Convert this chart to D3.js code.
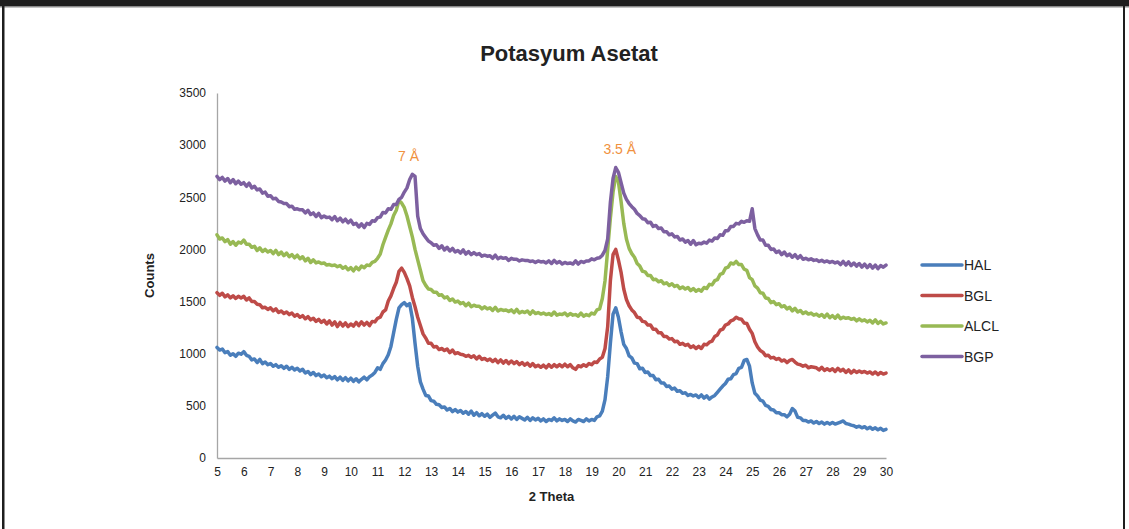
<!DOCTYPE html>
<html>
<head>
<meta charset="utf-8">
<script src="https://cdn.jsdelivr.net/npm/d3@7/dist/d3.min.js"></script>
<style>
  html, body { margin: 0; padding: 0; background: #fff; }
  svg { display: block; }
  text { font-family: "Liberation Sans", Arial, sans-serif; fill: #222; }
</style>
</head>
<body>
<svg id="chart" width="1129" height="529"></svg>
<script>
// 2-theta sampling grid, 5° to 30° in 0.1° steps
const theta = d3.range(251).map(i => +(5 + i / 10).toFixed(1));

const seriesNames = ["HAL", "BGL", "ALCL", "BGP"];
const seriesColors = ["#4A7EBB", "#BE4B48", "#98B954", "#7D60A0"];

const xTicks = d3.range(5, 31, 1);
const yTicks = [0, 500, 1000, 1500, 2000, 2500, 3000, 3500];

// d-spacing labels placed above the two main reflections
const peakLabels = ["7 Å", "3.5 Å"];
const peakLabelTheta = [12.16, 20.05];
const peakLabelCounts = [2850, 2915];

const HAL = [
  1060,1035,1045,1010,1020,985,1000,975,1005,995,
  1020,985,975,940,950,915,945,905,920,895,
  905,880,895,870,885,860,880,850,870,845,
  860,835,850,815,830,800,820,790,805,780,
  795,770,785,760,780,750,775,745,770,740,
  765,735,760,730,755,775,750,780,795,820,
  865,850,905,940,990,1070,1200,1330,1440,1470,
  1490,1460,1480,1340,1100,880,730,660,600,595,
  550,545,515,510,485,490,460,475,445,465,
  440,455,430,445,420,450,410,435,405,425,
  400,420,390,410,430,395,385,410,380,400,
  375,400,370,395,380,365,390,360,385,365,
  380,355,375,350,370,360,385,355,375,360,
  370,350,375,355,345,370,360,350,375,355,
  370,360,395,405,450,560,780,1100,1380,1440,
  1350,1210,1090,1050,980,960,910,905,855,860,
  820,825,790,790,750,755,720,720,685,690,
  660,670,640,645,620,625,600,610,595,605,
  580,605,575,595,565,585,600,630,660,690,
  715,755,760,800,810,860,870,935,945,880,
  720,620,595,555,545,505,495,465,460,435,
  435,415,415,395,420,475,450,390,385,360,
  360,345,355,335,350,330,345,325,340,325,
  340,325,335,345,355,330,325,315,310,295,
  305,290,300,280,295,275,290,270,285,265,
  275
];

const BGL = [
  1585,1560,1580,1545,1565,1535,1555,1530,1550,1535,
  1550,1515,1535,1500,1500,1475,1470,1440,1445,1425,
  1440,1410,1430,1395,1410,1385,1400,1375,1390,1360,
  1375,1350,1365,1335,1355,1325,1340,1310,1330,1300,
  1320,1285,1315,1275,1305,1260,1300,1265,1295,1260,
  1285,1265,1300,1270,1305,1275,1300,1270,1310,1305,
  1340,1350,1400,1420,1505,1555,1625,1685,1790,1820,
  1780,1720,1650,1540,1450,1350,1270,1190,1150,1100,
  1100,1065,1070,1040,1050,1030,1045,1010,1035,1000,
  1010,995,990,975,985,965,980,950,975,945,
  955,935,950,925,945,915,940,910,935,905,
  930,905,925,895,915,890,910,880,905,875,
  890,870,890,865,895,870,895,875,895,875,
  900,875,895,865,850,885,875,895,880,905,
  895,920,915,950,965,1050,1260,1700,1950,2000,
  1900,1780,1620,1520,1460,1420,1395,1350,1345,1310,
  1305,1275,1275,1235,1235,1200,1200,1165,1165,1140,
  1145,1115,1120,1090,1100,1080,1090,1060,1075,1050,
  1070,1050,1090,1085,1110,1120,1165,1180,1225,1235,
  1275,1285,1315,1325,1350,1335,1330,1295,1290,1235,
  1195,1115,1065,1030,1015,980,985,960,965,945,
  955,930,940,915,935,945,920,900,895,880,
  890,865,875,870,865,845,870,840,855,840,
  855,830,860,835,850,820,845,815,840,820,
  835,820,830,815,825,805,825,800,820,805,
  815
];

const ALCL = [
  2140,2100,2110,2075,2095,2050,2075,2040,2070,2060,
  2090,2050,2050,2020,2030,1990,2015,1980,2000,1975,
  1990,1960,1990,1950,1975,1940,1965,1930,1950,1920,
  1945,1910,1930,1890,1915,1875,1900,1870,1880,1865,
  1870,1850,1855,1845,1850,1835,1845,1820,1835,1805,
  1825,1795,1830,1805,1840,1825,1850,1845,1875,1885,
  1915,1955,2045,2115,2185,2245,2325,2375,2470,2445,
  2400,2320,2220,2120,2000,1900,1800,1700,1655,1620,
  1615,1590,1590,1560,1565,1535,1545,1510,1525,1495,
  1505,1480,1490,1460,1485,1450,1465,1455,1455,1430,
  1450,1430,1440,1415,1445,1410,1425,1415,1420,1405,
  1420,1395,1425,1390,1405,1395,1410,1380,1410,1385,
  1395,1380,1390,1375,1385,1370,1400,1370,1380,1375,
  1390,1365,1385,1370,1375,1360,1390,1360,1375,1365,
  1390,1380,1420,1430,1530,1700,2000,2300,2550,2700,
  2650,2460,2250,2100,2010,1960,1925,1865,1840,1790,
  1785,1750,1750,1710,1715,1690,1700,1670,1680,1655,
  1670,1645,1655,1625,1640,1620,1635,1605,1625,1600,
  1615,1600,1635,1625,1665,1660,1700,1710,1760,1770,
  1820,1830,1870,1860,1885,1855,1855,1810,1800,1730,
  1710,1650,1630,1585,1580,1535,1530,1490,1500,1470,
  1480,1450,1460,1430,1445,1410,1435,1400,1415,1385,
  1400,1380,1390,1370,1380,1360,1375,1350,1380,1345,
  1365,1340,1370,1335,1350,1340,1345,1330,1340,1315,
  1335,1315,1325,1305,1320,1295,1325,1290,1310,1285,
  1295
];

const BGP = [
  2700,2670,2690,2655,2680,2640,2670,2630,2655,2625,
  2640,2605,2635,2590,2605,2570,2580,2540,2550,2510,
  2515,2485,2490,2460,2455,2440,2440,2410,2415,2385,
  2390,2380,2380,2350,2375,2335,2350,2315,2345,2305,
  2320,2305,2310,2285,2315,2275,2300,2265,2290,2255,
  2280,2240,2250,2215,2245,2210,2250,2240,2275,2270,
  2305,2310,2355,2350,2390,2385,2430,2430,2480,2500,
  2550,2590,2670,2720,2700,2320,2200,2150,2115,2080,
  2065,2040,2045,2010,2035,1995,2020,1985,2010,1975,
  1990,1965,1995,1955,1980,1950,1970,1950,1960,1935,
  1945,1935,1940,1915,1945,1910,1925,1915,1920,1895,
  1915,1905,1905,1890,1900,1895,1895,1885,1890,1875,
  1890,1880,1885,1870,1890,1865,1895,1870,1885,1860,
  1875,1865,1870,1860,1890,1860,1885,1875,1890,1890,
  1910,1900,1915,1920,1945,1990,2100,2450,2680,2785,
  2740,2640,2540,2480,2440,2410,2385,2345,2325,2295,
  2290,2255,2260,2220,2230,2200,2205,2170,2170,2140,
  2150,2120,2125,2090,2100,2070,2085,2050,2085,2045,
  2060,2055,2070,2060,2090,2080,2110,2105,2140,2135,
  2180,2180,2220,2220,2250,2245,2270,2260,2275,2270,
  2390,2200,2140,2090,2090,2040,2040,2000,2005,1970,
  1985,1950,1975,1940,1955,1925,1950,1915,1940,1905,
  1915,1900,1910,1895,1900,1885,1895,1880,1890,1875,
  1885,1870,1880,1855,1885,1850,1880,1845,1870,1840,
  1865,1830,1860,1825,1855,1820,1850,1815,1845,1830,
  1850
];

const seriesValues = [HAL, BGL, ALCL, BGP];

const svg = d3.select("#chart");
const W = 1129, H = 529;

// page frame
svg.append("rect").attr("x", 0).attr("y", 0).attr("width", W).attr("height", H).attr("fill", "#fff");
svg.append("rect").attr("x", 0).attr("y", 0).attr("width", W).attr("height", 6).attr("fill", "#1e1e1e");
svg.append("rect").attr("x", 0).attr("y", 6).attr("width", W).attr("height", 1.5).attr("fill", "#8a8a8a");
svg.append("rect").attr("x", 2).attr("y", 0).attr("width", 2.5).attr("height", H).attr("fill", "#1e1e1e");
svg.append("rect").attr("x", 1123).attr("y", 0).attr("width", 2).attr("height", H).attr("fill", "#1e1e1e");

const plot = { left: 217, right: 886, top: 93, bottom: 458 };

const x = d3.scaleLinear().domain([5, 30]).range([plot.left, plot.right]);
const y = d3.scaleLinear().domain([0, 3500]).range([plot.bottom, plot.top]);

// axes
const xAxis = d3.axisBottom(x).tickValues(xTicks).tickSize(0).tickPadding(9).tickFormat(d3.format("d"));
const yAxis = d3.axisLeft(y).tickValues(yTicks).tickSize(0).tickPadding(11).tickFormat(d3.format("d"));

const gx = svg.append("g").attr("transform", `translate(0,${plot.bottom})`).call(xAxis);
const gy = svg.append("g").attr("transform", `translate(${plot.left},0)`).call(yAxis);
[gx, gy].forEach(g => {
  g.select(".domain").attr("stroke", "#a6a6a6").attr("stroke-width", 1.3);
  g.selectAll("text").attr("font-size", 12).attr("fill", "#222")
    .attr("font-family", "'Liberation Sans', Arial, sans-serif");
});

// series lines
const line = d3.line()
  .x((d, i) => x(theta[i]))
  .y(d => y(d))
  .curve(d3.curveLinear);

svg.append("g").selectAll("path")
  .data(seriesValues)
  .join("path")
  .attr("d", d => line(d))
  .attr("fill", "none")
  .attr("stroke", (d, i) => seriesColors[i])
  .attr("stroke-width", 3.5)
  .attr("stroke-linejoin", "round")
  .attr("stroke-linecap", "round");

// peak annotations
svg.append("g").selectAll("text")
  .data(peakLabels)
  .join("text")
  .attr("x", (d, i) => x(peakLabelTheta[i]))
  .attr("y", (d, i) => y(peakLabelCounts[i]))
  .attr("text-anchor", "middle")
  .attr("font-size", 14)
  .style("fill", "#F0913E")
  .text(d => d);

// title
svg.append("text")
  .attr("x", 569).attr("y", 61)
  .attr("text-anchor", "middle")
  .attr("font-size", 22)
  .attr("font-weight", "bold")
  .text("Potasyum Asetat");

// axis titles
svg.append("text")
  .attr("transform", `translate(154,${(plot.top + plot.bottom) / 2}) rotate(-90)`)
  .attr("text-anchor", "middle")
  .attr("font-size", 13)
  .attr("font-weight", "bold")
  .text("Counts");

svg.append("text")
  .attr("x", (plot.left + plot.right) / 2).attr("y", 501)
  .attr("text-anchor", "middle")
  .attr("font-size", 13)
  .attr("font-weight", "bold")
  .text("2 Theta");

// legend
const legend = svg.append("g").attr("transform", "translate(922,265)");
const items = legend.selectAll("g")
  .data(seriesNames)
  .join("g")
  .attr("transform", (d, i) => `translate(0,${i * 30.5})`);
items.append("line")
  .attr("x1", 0).attr("x2", 40).attr("y1", 0).attr("y2", 0)
  .attr("stroke", (d, i) => seriesColors[i])
  .attr("stroke-width", 3.5)
  .attr("stroke-linecap", "round");
items.append("text")
  .attr("x", 42).attr("y", 5)
  .attr("font-size", 14)
  .text(d => d);
</script>
</body>
</html>
